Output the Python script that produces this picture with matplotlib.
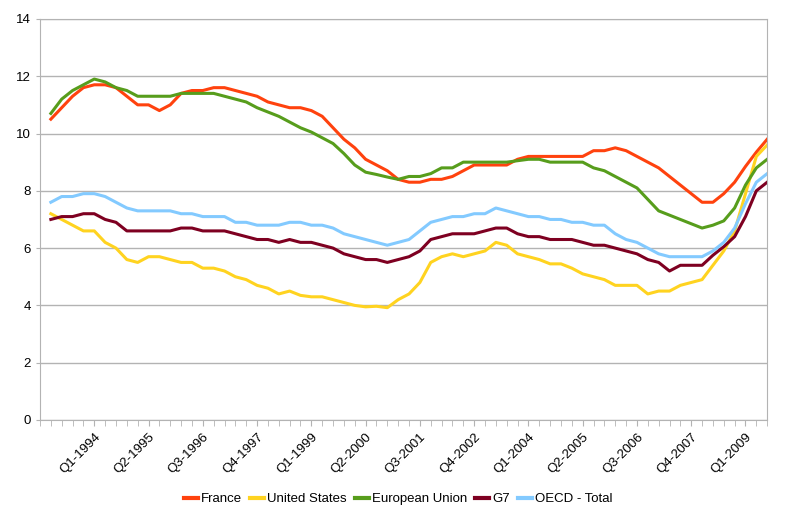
import matplotlib
matplotlib.use('Agg')
import matplotlib.pyplot as plt
import numpy as np

plt.rcParams['font.family'] = ['Liberation Sans', 'DejaVu Sans']

# quarterly unemployment rate, Q1-1993 .. Q3-2009
france = [10.5, 10.9, 11.3, 11.6, 11.7, 11.7, 11.6, 11.3, 11.0, 11.0, 10.8, 11.0, 11.4, 11.5, 11.5, 11.6, 11.6, 11.5, 11.4, 11.3, 11.1,
          11.0, 10.9,
          10.9, 10.8, 10.6, 10.2, 9.8, 9.5, 9.1, 8.9, 8.7, 8.4, 8.3, 8.3, 8.4, 8.4, 8.5, 8.7, 8.9, 8.9, 8.9, 8.9, 9.1, 9.2,
          9.2, 9.2, 9.2, 9.2, 9.2, 9.4, 9.4, 9.5, 9.4, 9.2, 9.0, 8.8, 8.5, 8.2, 7.9, 7.6, 7.6, 7.9, 8.3, 8.85, 9.35, 9.8]
united_states = [7.2, 7.0, 6.8, 6.6, 6.6, 6.2, 6.0, 5.6, 5.5, 5.7, 5.7, 5.6, 5.5, 5.5, 5.3, 5.3, 5.2, 5.0, 4.9, 4.7, 4.6, 4.4, 4.5,
                 4.35, 4.3, 4.3, 4.2, 4.1, 4.0, 3.95, 3.97, 3.92, 4.2, 4.4, 4.8, 5.5, 5.7, 5.8, 5.7, 5.8, 5.9, 6.2, 6.1, 5.8, 5.7,
                 5.6, 5.45, 5.45, 5.3, 5.1, 5.0, 4.9, 4.7, 4.7, 4.7, 4.4, 4.5, 4.5, 4.7, 4.8, 4.9, 5.4, 5.9, 6.6, 7.9, 9.2, 9.6]
european_union = [10.7, 11.2, 11.5, 11.7, 11.9, 11.8, 11.6, 11.5, 11.3, 11.3, 11.3, 11.3, 11.4, 11.4, 11.4, 11.4, 11.3, 11.2, 11.1, 10.9, 10.75, 10.6, 10.4,
                  10.2, 10.05, 9.85, 9.65, 9.3, 8.9, 8.65, 8.57, 8.48, 8.4, 8.5, 8.5, 8.6, 8.8, 8.8, 9.0, 9.0, 9.0, 9.0, 9.0, 9.05, 9.1,
                  9.1, 9.0, 9.0, 9.0, 9.0, 8.8, 8.7, 8.5, 8.3, 8.1, 7.7, 7.3, 7.15, 7.0, 6.85, 6.7, 6.8, 6.95, 7.4, 8.2, 8.8, 9.1]
g7 = [7.0, 7.1, 7.1, 7.2, 7.2, 7.0, 6.9, 6.6, 6.6, 6.6, 6.6, 6.6, 6.7, 6.7, 6.6, 6.6, 6.6, 6.5, 6.4, 6.3, 6.3, 6.2, 6.3,
      6.2, 6.2, 6.1, 6.0, 5.8, 5.7, 5.6, 5.6, 5.5, 5.6, 5.7, 5.9, 6.3, 6.4, 6.5, 6.5, 6.5, 6.6, 6.7, 6.7, 6.5, 6.4,
      6.4, 6.3, 6.3, 6.3, 6.2, 6.1, 6.1, 6.0, 5.9, 5.8, 5.6, 5.5, 5.2, 5.4, 5.4, 5.4, 5.75, 6.05, 6.4, 7.1, 8.0, 8.3]
oecd_total = [7.6, 7.8, 7.8, 7.9, 7.9, 7.8, 7.6, 7.4, 7.3, 7.3, 7.3, 7.3, 7.2, 7.2, 7.1, 7.1, 7.1, 6.9, 6.9, 6.8, 6.8, 6.8, 6.9,
              6.9, 6.8, 6.8, 6.7, 6.5, 6.4, 6.3, 6.2, 6.1, 6.2, 6.3, 6.6, 6.9, 7.0, 7.1, 7.1, 7.2, 7.2, 7.4, 7.3, 7.2, 7.1,
              7.1, 7.0, 7.0, 6.9, 6.9, 6.8, 6.8, 6.5, 6.3, 6.2, 6.0, 5.8, 5.7, 5.7, 5.7, 5.7, 5.9, 6.2, 6.7, 7.55, 8.3, 8.6]

series_names = ['France', 'United States', 'European Union', 'G7', 'OECD - Total']
colors = ['#ff420e', '#ffd320', '#579d1c', '#7e0021', '#83caff']

# category axis starts one (empty) quarter before the data
quarters = ['Q4-1992'] + ['Q%d-%d' % (q, y) for y in range(1993, 2010) for q in range(1, 5)]
quarters = quarters[:68]

fig = plt.figure(figsize=(8, 5.25), dpi=100)
ax = fig.add_axes([0.05, 0.2, 0.909, 0.764])

x = np.arange(1, len(france) + 1)
for name, vals, c in zip(series_names, [france, united_states, european_union, g7, oecd_total], colors):
    ax.plot(x, vals, color=c, lw=2.2, label=name, solid_joinstyle='round')

ax.set_xlim(0, 67)
ax.set_ylim(0, 14)
ax.set_yticks(np.arange(0, 15, 2))
ax.yaxis.grid(True, color='#b3b3b3', lw=1)
ax.set_axisbelow(True)
for s in ax.spines.values():
    s.set_color('#b3b3b3')

major = list(range(5, 67, 5))
ax.set_xticks(major)
ax.set_xticklabels([quarters[k] for k in major], rotation=45, ha='right', rotation_mode='anchor')
ax.set_xticks(range(0, 68), minor=True)
ax.tick_params(axis='x', which='both', length=4, color='#b3b3b3', labelsize=9.5, pad=4)
ax.tick_params(axis='y', length=3, color='#b3b3b3', labelsize=9.5)

leg = fig.legend(loc='center', bbox_to_anchor=(0.498, 0.049), ncol=5, frameon=False, fontsize=9.5,
                 handlelength=1.05, handletextpad=0.25, columnspacing=0.6)
for line in leg.get_lines():
    line.set_linewidth(3)

fig.savefig('out.png', dpi=100)
